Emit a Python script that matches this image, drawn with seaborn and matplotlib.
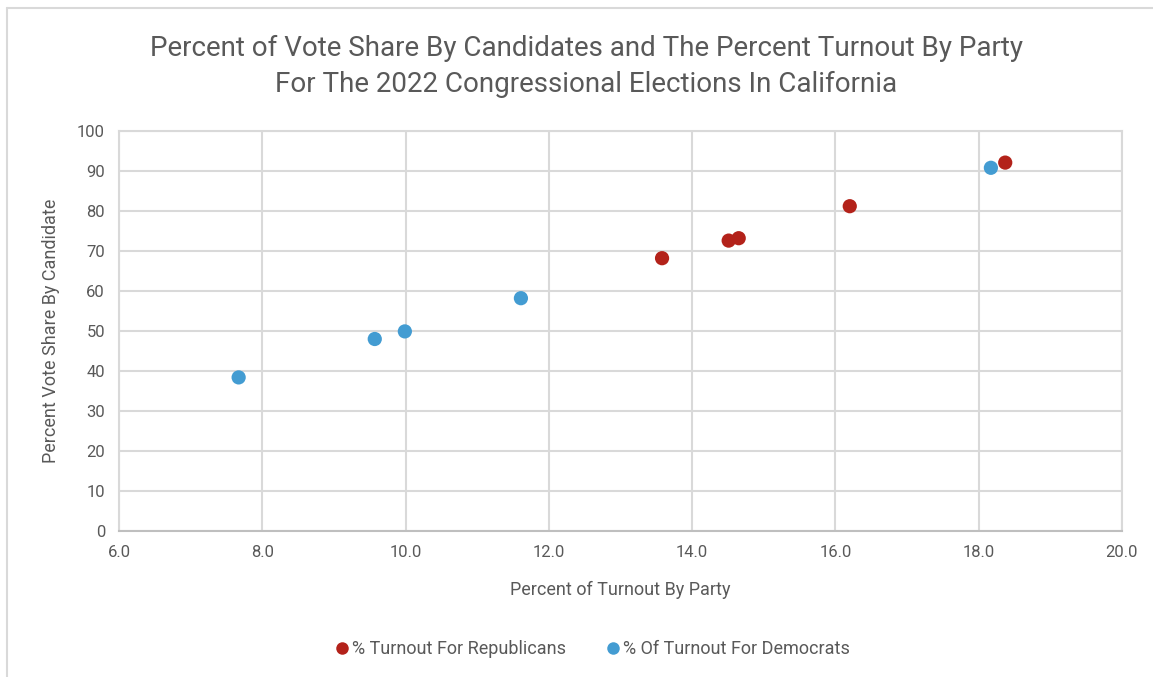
import pandas as pd
import matplotlib
matplotlib.use("Agg")
import matplotlib.pyplot as plt
import seaborn as sns
from matplotlib.lines import Line2D

rep_turnout = [13.58, 14.51, 14.65, 16.20, 18.37]
rep_share = [68.2, 72.6, 73.2, 81.2, 92.1]
dem_turnout = [7.67, 9.57, 9.99, 11.61, 18.17]
dem_share = [38.4, 48.0, 49.9, 58.2, 90.8]

rep_label = "% Turnout For Republicans"
dem_label = "% Of Turnout For Democrats"

df = pd.concat([
    pd.DataFrame({'Turnout': rep_turnout, 'Share': rep_share, 'Series': rep_label}),
    pd.DataFrame({'Turnout': dem_turnout, 'Share': dem_share, 'Series': dem_label}),
])

sns.set_style("white")
plt.rcParams['font.family'] = ['Roboto', 'DejaVu Sans']
txt = '#595959'
grid_c = '#D9D9D9'
palette = {rep_label: '#B3221A', dem_label: '#439CD2'}

fig = plt.figure(figsize=(11.53, 6.77), dpi=100)
ax = fig.add_axes([119/1153, 1 - 531/677, (1122 - 119)/1153, (531 - 131)/677])

sns.scatterplot(data=df, x='Turnout', y='Share', hue='Series', palette=palette,
                s=105, edgecolor='none', ax=ax, legend=False, zorder=3)

ax.set_xlim(6, 20)
ax.set_ylim(0, 100)
ax.set_xticks([6, 8, 10, 12, 14, 16, 18, 20])
ax.set_xticklabels([f"{v:.1f}" for v in [6, 8, 10, 12, 14, 16, 18, 20]])
ax.set_yticks(range(0, 101, 10))
ax.grid(True, color=grid_c, linewidth=1.5)
for s in ax.spines.values():
    s.set_color(grid_c)
    s.set_linewidth(1.5)
ax.spines['bottom'].set_color('#BFBFBF')
ax.tick_params(colors=txt, labelsize=12, length=0, pad=10)

ax.set_xlabel("Percent of Turnout By Party", fontsize=13, color=txt, labelpad=15)
ax.set_ylabel("Percent Vote Share By Candidate", fontsize=13, color=txt, labelpad=12)

fig.text(586/1153, 1 - 48/677, "Percent of Vote Share By Candidates and The Percent Turnout By Party",
         ha='center', va='center', fontsize=20, color=txt)
fig.text(586/1153, 1 - 84/677, "For The 2022 Congressional Elections In California",
         ha='center', va='center', fontsize=20, color=txt)

handles = [Line2D([], [], marker='o', linestyle='none', markersize=9,
                  markerfacecolor=palette[k], markeredgecolor='none') for k in [rep_label, dem_label]]
fig.legend(handles, [rep_label, dem_label], loc='center', bbox_to_anchor=(587/1153, 1 - 649/677),
           ncol=2, frameon=False, fontsize=13, labelcolor=txt, handletextpad=-0.45,
           columnspacing=1.6)

# outer chart border (top and left visible)
fig.add_artist(Line2D([7/1153, 1.0], [1 - 8/677, 1 - 8/677], color=grid_c, linewidth=1.5))
fig.add_artist(Line2D([7/1153, 7/1153], [0.0, 1 - 8/677], color=grid_c, linewidth=1.5))

fig.savefig("out.png", dpi=100, facecolor='white')
